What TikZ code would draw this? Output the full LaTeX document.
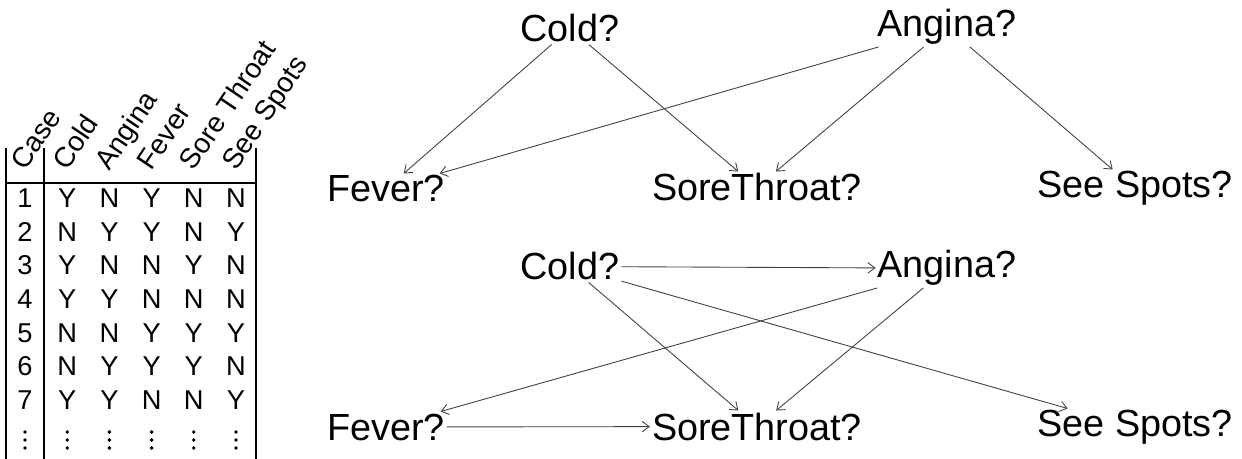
\documentclass[tikz,border=0pt]{standalone}
\usepackage{fontspec}
\setmainfont{Liberation Sans}
\usetikzlibrary{arrows.meta}

\begin{document}
\begin{tikzpicture}[
	x=0.02cm, y=-0.02cm,
	var/.style={inner sep=1pt, anchor=base, font=\fontsize{21.5}{24}\selectfont},
	cell/.style={inner sep=0pt, font=\fontsize{15.5}{16}\selectfont},
	head/.style={inner sep=0pt, rotate=56, anchor=base west, font=\fontsize{16}{18}\selectfont},
	link/.style={draw=black!75, line width=0.5pt, -{Straight Barb[length=4pt, width=6pt]}},
	rule/.style={line width=0.6pt}
	]
	\useasboundingbox (0,0) rectangle (1242,459);

	% table of cases
	\draw [rule] (6,148)--(6,459) (44,148)--(44,459) (256,148)--(256,459);
	\draw [rule] (6,183)--(256,183);
	\foreach \h [count=\k] in {Case,Cold,Angina,Fever,Sore Throat,See Spots}
		\node (head\k) [head] at ({25+42.2*(\k-1)},172) {\h};
	\foreach \row [count=\r] in {{1,Y,N,Y,N,N},{2,N,Y,Y,N,Y},{3,Y,N,N,Y,N},{4,Y,Y,N,N,N},
		{5,N,N,Y,Y,Y},{6,N,Y,Y,Y,N},{7,Y,Y,N,N,Y}}
		\foreach \c [count=\k] in \row
			\node (cell\r-\k) [cell] at ({25+42.2*(\k-1)},{198+33.7*(\r-1)}) {\c};
	% vertical dots in the last row
	\foreach \k in {1,...,6}
		\foreach \d in {-8,0,8}
			\fill ({25+42.2*(\k-1)},{440+\d}) circle (1.1pt);

	% first network
	\node (cold) [var] at (570,42) {Cold?};
	\node (angina) [var] at (947,37) {Angina?};
	\node (fever) [var] at (386,202) {Fever?};
	\node (throat) [var] at (757,201) {SoreThroat?};
	\node (spots) [var] at (1135,198) {See Spots?};

	\draw [link] (cold)--(fever);
	\draw [link] (cold)--(throat);
	\draw [link] (angina)--(fever);
	\draw [link] (angina)--(throat);
	\draw [link] (angina)--(spots);

	% second network
	\node (cold2) [var] at (570,280) {Cold?};
	\node (angina2) [var] at (947,278) {Angina?};
	\node (fever2) [var] at (386,440) {Fever?};
	\node (throat2) [var] at (757,440) {SoreThroat?};
	\node (spots2) [var] at (1135,437) {See Spots?};

	\draw [link] (cold2)--(angina2);
	\draw [link] (cold2)--(throat2);
	\draw [link] (cold2)--(spots2);
	\draw [link] (angina2)--(fever2);
	\draw [link] (angina2)--(throat2);
	\draw [link] (fever2)--(throat2);

\end{tikzpicture}
\end{document}
